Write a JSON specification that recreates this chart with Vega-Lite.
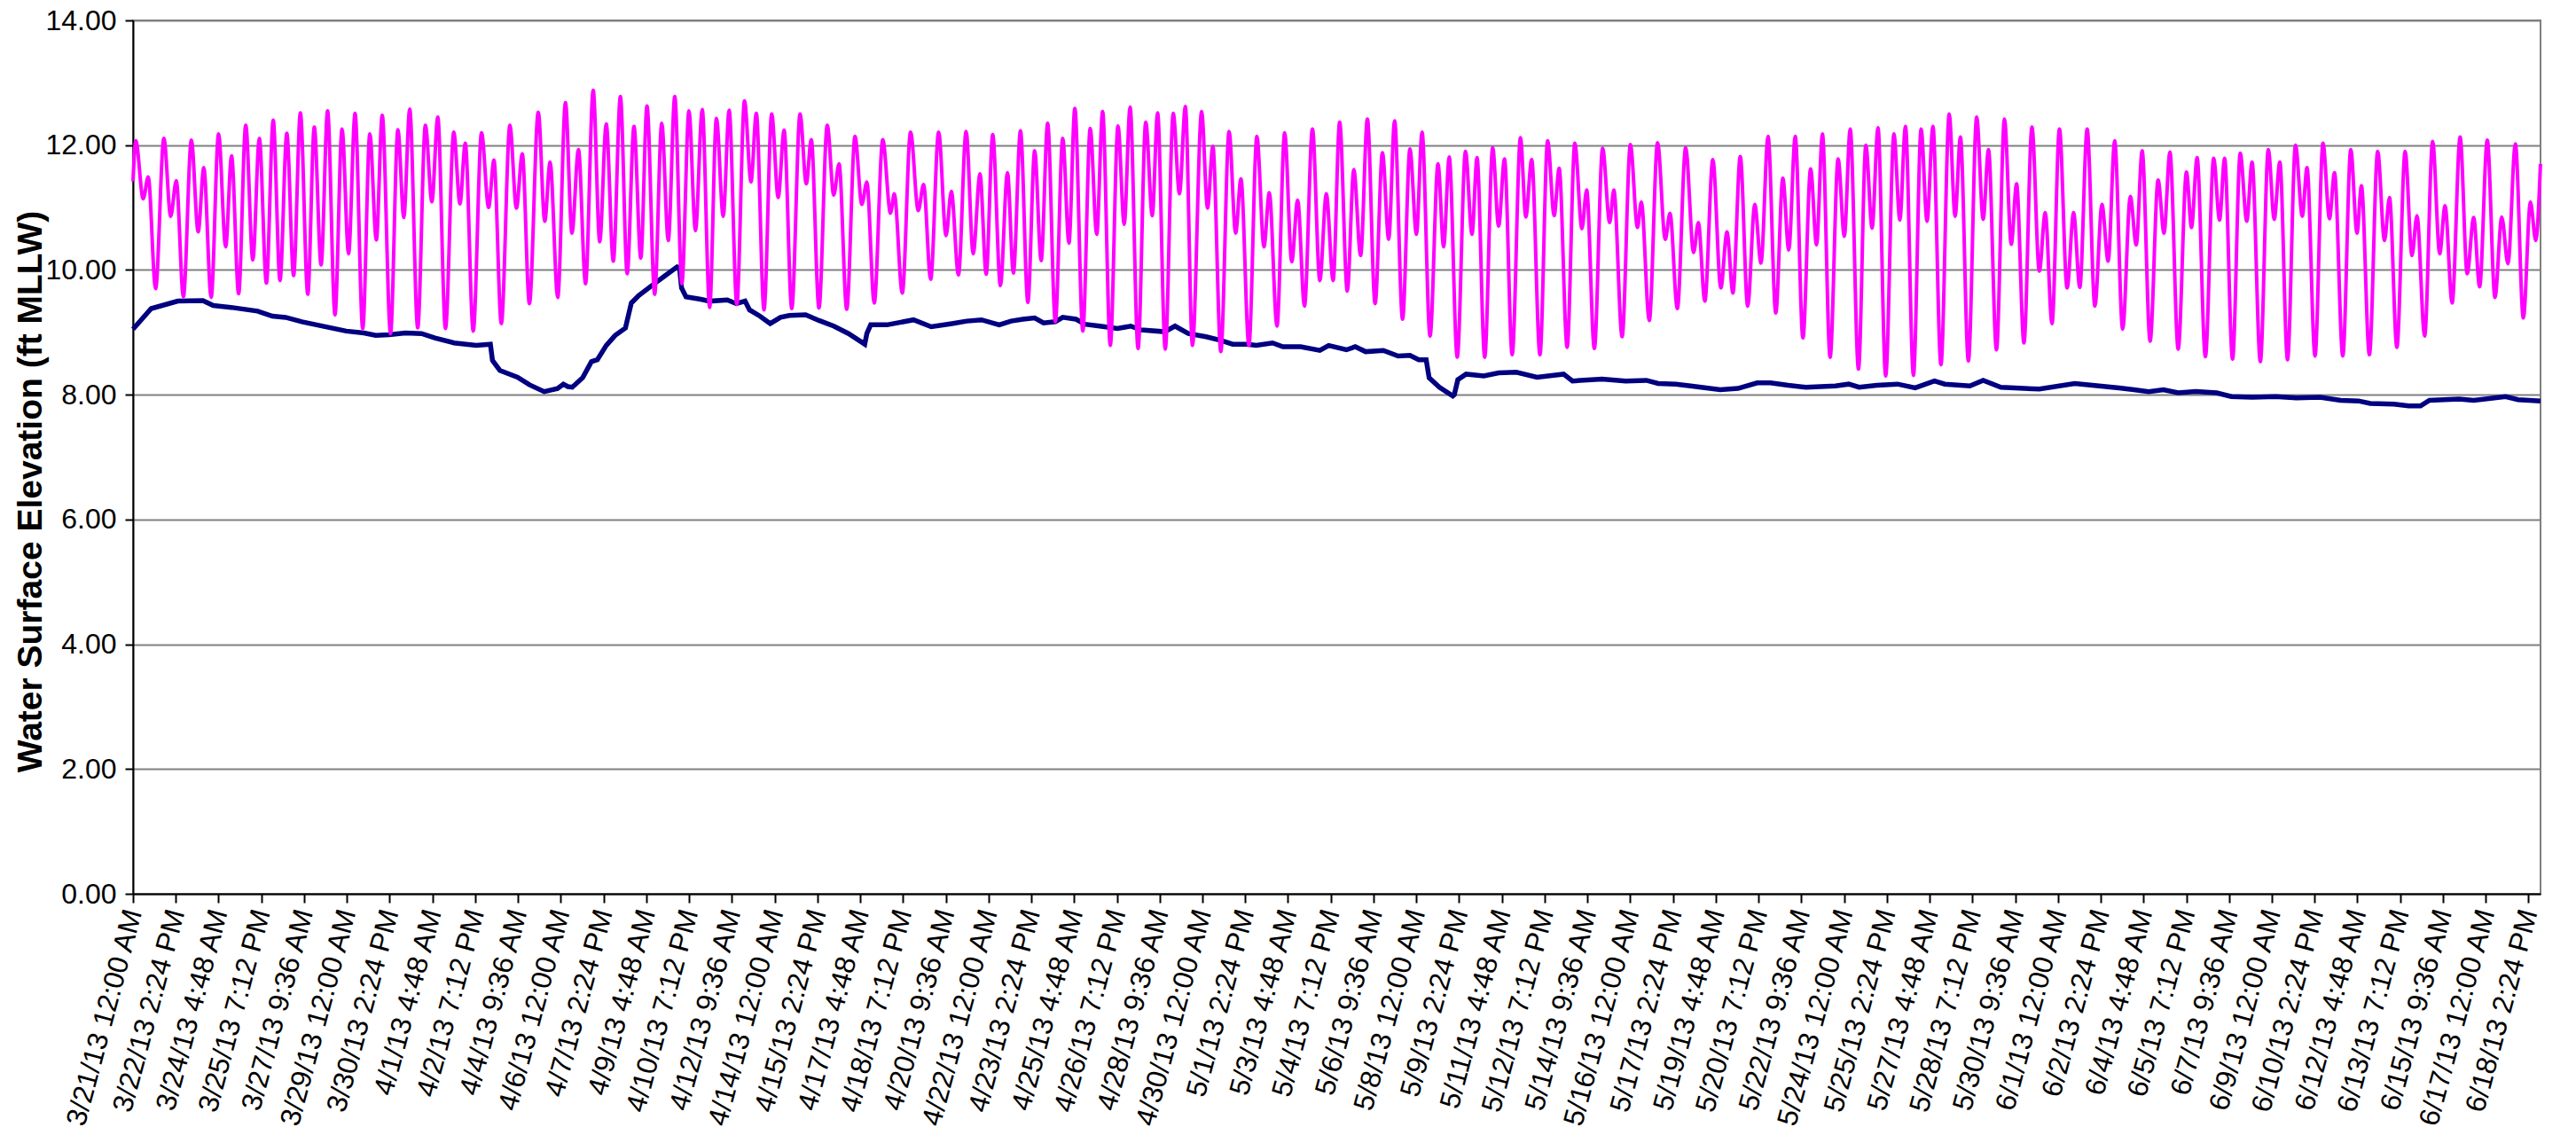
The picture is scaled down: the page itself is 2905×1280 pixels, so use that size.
{
"$schema": "https://vega.github.io/schema/vega-lite/v6.json",
"width": 2715, "height": 985,
"autosize": "none",
"padding": {"left": 150, "top": 23, "right": 40, "bottom": 272},
"background": "white",
"config": {"view": {"stroke": "#808080", "strokeWidth": 2}, "font": "Liberation Sans"},
"datasets": {
"pond": [
{"d":0,"v":9.05},{"d":0.68,"v":9.38},{"d":1.674,"v":9.50},{"d":2.614,"v":9.51},{"d":3.0,"v":9.43},{"d":3.664,"v":9.40},{"d":4.659,"v":9.34},{"d":5.211,"v":9.26},{"d":5.708,"v":9.24},{"d":6.316,"v":9.17},{"d":7.422,"v":9.07},{"d":7.974,"v":9.02},{"d":8.637,"v":8.99},{"d":9.079,"v":8.95},{"d":9.577,"v":8.96},{"d":10.184,"v":8.99},{"d":10.792,"v":8.98},{"d":11.29,"v":8.91},{"d":12.008,"v":8.83},{"d":12.837,"v":8.79},{"d":13.367,"v":8.81},{"d":13.445,"v":8.55},{"d":13.721,"v":8.39},{"d":14.384,"v":8.28},{"d":14.826,"v":8.16},{"d":15.379,"v":8.05},{"d":15.876,"v":8.10},{"d":16.097,"v":8.17},{"d":16.263,"v":8.13},{"d":16.429,"v":8.12},{"d":16.816,"v":8.27},{"d":17.147,"v":8.53},{"d":17.368,"v":8.56},{"d":17.7,"v":8.79},{"d":18.031,"v":8.95},{"d":18.418,"v":9.07},{"d":18.639,"v":9.47},{"d":18.915,"v":9.59},{"d":19.468,"v":9.77},{"d":19.91,"v":9.91},{"d":20.352,"v":10.05},{"d":20.44,"v":10.04},{"d":20.518,"v":9.71},{"d":20.684,"v":9.57},{"d":21.236,"v":9.53},{"d":21.568,"v":9.50},{"d":22.231,"v":9.52},{"d":22.563,"v":9.46},{"d":22.894,"v":9.50},{"d":23.06,"v":9.36},{"d":23.447,"v":9.26},{"d":23.834,"v":9.14},{"d":24.22,"v":9.24},{"d":24.552,"v":9.27},{"d":25.16,"v":9.28},{"d":25.657,"v":9.19},{"d":26.21,"v":9.10},{"d":26.762,"v":8.98},{"d":27.37,"v":8.81},{"d":27.448,"v":8.98},{"d":27.591,"v":9.12},{"d":28.199,"v":9.12},{"d":29.194,"v":9.20},{"d":29.857,"v":9.09},{"d":30.63,"v":9.14},{"d":31.183,"v":9.18},{"d":31.736,"v":9.20},{"d":32.399,"v":9.12},{"d":32.841,"v":9.18},{"d":33.283,"v":9.21},{"d":33.725,"v":9.23},{"d":34.057,"v":9.15},{"d":34.499,"v":9.17},{"d":34.775,"v":9.24},{"d":35.272,"v":9.21},{"d":35.604,"v":9.13},{"d":36.157,"v":9.10},{"d":36.82,"v":9.06},{"d":37.317,"v":9.10},{"d":37.704,"v":9.04},{"d":38.588,"v":9.01},{"d":38.975,"v":9.10},{"d":39.472,"v":8.98},{"d":40.135,"v":8.93},{"d":40.688,"v":8.87},{"d":41.131,"v":8.81},{"d":41.684,"v":8.81},{"d":42.015,"v":8.79},{"d":42.623,"v":8.83},{"d":43.01,"v":8.77},{"d":43.673,"v":8.77},{"d":44.391,"v":8.71},{"d":44.723,"v":8.79},{"d":45.386,"v":8.72},{"d":45.717,"v":8.77},{"d":46.104,"v":8.69},{"d":46.768,"v":8.71},{"d":47.32,"v":8.62},{"d":47.762,"v":8.63},{"d":48.094,"v":8.56},{"d":48.37,"v":8.56},{"d":48.48,"v":8.27},{"d":48.867,"v":8.12},{"d":49.365,"v":7.98},{"d":49.42,"v":8.00},{"d":49.553,"v":8.24},{"d":49.862,"v":8.33},{"d":50.525,"v":8.30},{"d":51.078,"v":8.35},{"d":51.741,"v":8.36},{"d":52.515,"v":8.28},{"d":53.509,"v":8.33},{"d":53.841,"v":8.22},{"d":54.946,"v":8.25},{"d":55.83,"v":8.22},{"d":56.604,"v":8.23},{"d":57.046,"v":8.18},{"d":57.709,"v":8.17},{"d":58.262,"v":8.14},{"d":59.367,"v":8.08},{"d":60.03,"v":8.10},{"d":60.749,"v":8.19},{"d":61.246,"v":8.19},{"d":61.909,"v":8.15},{"d":62.572,"v":8.12},{"d":63.677,"v":8.14},{"d":64.175,"v":8.17},{"d":64.561,"v":8.12},{"d":65.225,"v":8.15},{"d":65.998,"v":8.17},{"d":66.661,"v":8.11},{"d":67.38,"v":8.22},{"d":67.766,"v":8.17},{"d":68.706,"v":8.14},{"d":69.203,"v":8.23},{"d":69.866,"v":8.12},{"d":71.303,"v":8.09},{"d":72.629,"v":8.18},{"d":73.292,"v":8.15},{"d":74.287,"v":8.11},{"d":74.84,"v":8.08},{"d":75.392,"v":8.05},{"d":75.945,"v":8.08},{"d":76.497,"v":8.03},{"d":77.16,"v":8.05},{"d":77.934,"v":8.03},{"d":78.486,"v":7.97},{"d":79.26,"v":7.96},{"d":80.145,"v":7.97},{"d":80.918,"v":7.95},{"d":81.802,"v":7.96},{"d":82.577,"v":7.91},{"d":83.24,"v":7.90},{"d":83.682,"v":7.86},{"d":84.566,"v":7.85},{"d":85.119,"v":7.82},{"d":85.561,"v":7.82},{"d":85.893,"v":7.91},{"d":86.998,"v":7.93},{"d":87.55,"v":7.91},{"d":88.324,"v":7.95},{"d":88.744,"v":7.97},{"d":89.208,"v":7.92},{"d":90.048,"v":7.90}
],
"tide": [
{"d":0,"v":11.42},{"d":0.105,"v":12.07},{"d":0.381,"v":11.14},{"d":0.569,"v":11.49},{"d":0.845,"v":9.70},{"d":1.155,"v":12.11},{"d":1.409,"v":10.86},{"d":1.619,"v":11.43},{"d":1.884,"v":9.57},{"d":2.183,"v":12.08},{"d":2.437,"v":10.61},{"d":2.647,"v":11.64},{"d":2.923,"v":9.56},{"d":3.200,"v":12.18},{"d":3.465,"v":10.37},{"d":3.686,"v":11.83},{"d":3.951,"v":9.62},{"d":4.216,"v":12.32},{"d":4.482,"v":10.16},{"d":4.725,"v":12.11},{"d":4.990,"v":9.79},{"d":5.244,"v":12.40},{"d":5.498,"v":9.83},{"d":5.753,"v":12.19},{"d":6.007,"v":9.91},{"d":6.261,"v":12.52},{"d":6.537,"v":9.61},{"d":6.780,"v":12.29},{"d":7.035,"v":10.08},{"d":7.278,"v":12.55},{"d":7.554,"v":9.28},{"d":7.819,"v":12.26},
{"d":8.062,"v":10.26},{"d":8.306,"v":12.51},{"d":8.593,"v":9.06},{"d":8.858,"v":12.18},{"d":9.101,"v":10.48},{"d":9.322,"v":12.48},{"d":9.632,"v":8.98},{"d":9.908,"v":12.25},{"d":10.129,"v":10.84},{"d":10.350,"v":12.58},{"d":10.649,"v":9.07},{"d":10.936,"v":12.32},{"d":11.179,"v":11.09},{"d":11.400,"v":12.45},{"d":11.687,"v":9.06},{"d":11.997,"v":12.21},{"d":12.229,"v":11.06},{"d":12.428,"v":12.03},{"d":12.726,"v":9.02},{"d":13.036,"v":12.20},{"d":13.301,"v":11.00},{"d":13.500,"v":11.76},{"d":13.776,"v":9.14},{"d":14.097,"v":12.32},{"d":14.340,"v":10.99},{"d":14.561,"v":11.86},{"d":14.826,"v":9.46},{"d":15.158,"v":12.53},{"d":15.401,"v":10.78},{"d":15.600,"v":11.73},{"d":15.887,"v":9.56},{"d":16.175,"v":12.68},
{"d":16.418,"v":10.59},{"d":16.661,"v":11.93},{"d":16.926,"v":9.78},{"d":17.213,"v":12.88},{"d":17.457,"v":10.45},{"d":17.700,"v":12.34},{"d":17.965,"v":10.14},{"d":18.230,"v":12.78},{"d":18.484,"v":9.94},{"d":18.739,"v":12.30},{"d":18.993,"v":10.19},{"d":19.225,"v":12.63},{"d":19.512,"v":9.61},{"d":19.777,"v":12.35},{"d":20.021,"v":10.47},{"d":20.264,"v":12.78},{"d":20.529,"v":9.78},{"d":20.794,"v":12.55},{"d":21.037,"v":10.63},{"d":21.292,"v":12.57},{"d":21.568,"v":9.40},{"d":21.822,"v":12.43},{"d":22.076,"v":10.86},{"d":22.297,"v":12.56},{"d":22.585,"v":9.45},{"d":22.872,"v":12.71},{"d":23.115,"v":11.41},{"d":23.314,"v":12.51},{"d":23.602,"v":9.36},{"d":23.889,"v":12.50},{"d":24.132,"v":11.16},{"d":24.353,"v":12.24},
{"d":24.640,"v":9.38},{"d":24.950,"v":12.50},{"d":25.182,"v":11.38},{"d":25.370,"v":12.09},{"d":25.657,"v":9.39},{"d":25.967,"v":12.32},{"d":26.210,"v":11.20},{"d":26.409,"v":11.70},{"d":26.696,"v":9.37},{"d":27.005,"v":12.14},{"d":27.260,"v":11.05},{"d":27.448,"v":11.41},{"d":27.724,"v":9.47},{"d":28.044,"v":12.09},{"d":28.332,"v":10.91},{"d":28.475,"v":11.22},{"d":28.774,"v":9.63},{"d":29.083,"v":12.21},{"d":29.371,"v":10.95},{"d":29.570,"v":11.37},{"d":29.835,"v":9.85},{"d":30.133,"v":12.21},{"d":30.410,"v":10.55},{"d":30.608,"v":11.26},{"d":30.874,"v":9.92},{"d":31.161,"v":12.22},{"d":31.426,"v":10.26},{"d":31.680,"v":11.54},{"d":31.913,"v":9.93},{"d":32.156,"v":12.17},{"d":32.443,"v":9.75},{"d":32.708,"v":11.56},
{"d":32.929,"v":9.95},{"d":33.195,"v":12.23},{"d":33.471,"v":9.48},{"d":33.725,"v":11.91},{"d":33.968,"v":10.15},{"d":34.211,"v":12.35},{"d":34.499,"v":9.17},{"d":34.775,"v":12.11},{"d":35.007,"v":10.43},{"d":35.228,"v":12.59},{"d":35.527,"v":9.02},{"d":35.803,"v":12.27},{"d":36.046,"v":10.57},{"d":36.267,"v":12.54},{"d":36.554,"v":8.79},{"d":36.842,"v":12.31},{"d":37.074,"v":10.73},{"d":37.295,"v":12.61},{"d":37.593,"v":8.74},{"d":37.881,"v":12.37},{"d":38.124,"v":10.87},{"d":38.323,"v":12.52},{"d":38.610,"v":8.73},{"d":38.909,"v":12.51},{"d":39.141,"v":11.22},{"d":39.362,"v":12.62},{"d":39.627,"v":8.79},{"d":39.970,"v":12.54},{"d":40.191,"v":10.99},{"d":40.390,"v":11.98},{"d":40.688,"v":8.69},{"d":40.997,"v":12.22},
{"d":41.242,"v":10.59},{"d":41.440,"v":11.46},{"d":41.739,"v":8.79},{"d":42.037,"v":12.14},{"d":42.302,"v":10.37},{"d":42.501,"v":11.24},{"d":42.789,"v":9.10},{"d":43.076,"v":12.20},{"d":43.341,"v":10.13},{"d":43.562,"v":11.12},{"d":43.817,"v":9.42},{"d":44.115,"v":12.26},{"d":44.391,"v":9.83},{"d":44.634,"v":11.22},{"d":44.889,"v":9.83},{"d":45.132,"v":12.37},{"d":45.419,"v":9.66},{"d":45.662,"v":11.61},{"d":45.917,"v":10.23},{"d":46.171,"v":12.42},{"d":46.458,"v":9.46},{"d":46.734,"v":11.88},{"d":46.967,"v":10.49},{"d":47.188,"v":12.39},{"d":47.486,"v":9.21},{"d":47.762,"v":11.94},{"d":48.005,"v":10.57},{"d":48.215,"v":12.21},{"d":48.514,"v":8.94},{"d":48.812,"v":11.70},{"d":49.022,"v":10.37},{"d":49.232,"v":11.81},
{"d":49.531,"v":8.60},{"d":49.840,"v":11.90},{"d":50.083,"v":10.57},{"d":50.271,"v":11.80},{"d":50.558,"v":8.60},{"d":50.857,"v":11.96},{"d":51.078,"v":10.70},{"d":51.299,"v":11.78},{"d":51.586,"v":8.64},{"d":51.896,"v":12.12},{"d":52.095,"v":10.85},{"d":52.316,"v":11.77},{"d":52.625,"v":8.64},{"d":52.912,"v":12.07},{"d":53.156,"v":10.87},{"d":53.343,"v":11.63},{"d":53.642,"v":8.76},{"d":53.929,"v":12.03},{"d":54.194,"v":10.66},{"d":54.371,"v":11.28},{"d":54.659,"v":8.74},{"d":54.968,"v":11.95},{"d":55.233,"v":10.76},{"d":55.388,"v":11.28},{"d":55.698,"v":8.93},{"d":56.007,"v":12.01},{"d":56.272,"v":10.68},{"d":56.416,"v":11.09},{"d":56.714,"v":9.19},{"d":57.024,"v":12.04},{"d":57.311,"v":10.49},{"d":57.488,"v":10.91},
{"d":57.764,"v":9.38},{"d":58.074,"v":11.96},{"d":58.372,"v":10.28},{"d":58.549,"v":10.76},{"d":58.792,"v":9.50},{"d":59.091,"v":11.77},{"d":59.389,"v":9.71},{"d":59.621,"v":10.61},{"d":59.842,"v":9.63},{"d":60.118,"v":11.82},{"d":60.395,"v":9.42},{"d":60.660,"v":11.05},{"d":60.892,"v":10.11},{"d":61.157,"v":12.14},{"d":61.445,"v":9.31},{"d":61.710,"v":11.47},{"d":61.931,"v":10.32},{"d":62.174,"v":12.14},{"d":62.461,"v":8.91},{"d":62.749,"v":11.62},{"d":62.970,"v":10.40},{"d":63.191,"v":12.18},{"d":63.478,"v":8.60},{"d":63.777,"v":11.78},{"d":64.009,"v":10.54},{"d":64.230,"v":12.26},{"d":64.539,"v":8.41},{"d":64.815,"v":12.00},{"d":65.048,"v":10.67},{"d":65.269,"v":12.28},{"d":65.556,"v":8.30},{"d":65.865,"v":12.18},
{"d":66.086,"v":10.80},{"d":66.296,"v":12.30},{"d":66.595,"v":8.31},{"d":66.882,"v":12.26},{"d":67.103,"v":10.78},{"d":67.324,"v":12.30},{"d":67.623,"v":8.48},{"d":67.932,"v":12.50},{"d":68.153,"v":10.86},{"d":68.352,"v":12.13},{"d":68.650,"v":8.54},{"d":68.960,"v":12.45},{"d":69.203,"v":10.81},{"d":69.402,"v":11.93},{"d":69.700,"v":8.72},{"d":69.999,"v":12.42},{"d":70.253,"v":10.41},{"d":70.452,"v":11.38},{"d":70.728,"v":8.83},{"d":71.027,"v":12.29},{"d":71.303,"v":9.98},{"d":71.524,"v":10.92},{"d":71.778,"v":9.14},{"d":72.055,"v":12.26},{"d":72.342,"v":9.71},{"d":72.585,"v":10.92},{"d":72.817,"v":9.72},{"d":73.093,"v":12.26},{"d":73.381,"v":9.42},{"d":73.646,"v":11.05},{"d":73.878,"v":10.14},{"d":74.121,"v":12.07},
{"d":74.420,"v":9.05},{"d":74.707,"v":11.18},{"d":74.928,"v":10.40},{"d":75.149,"v":11.91},{"d":75.447,"v":8.86},{"d":75.746,"v":11.44},{"d":75.967,"v":10.59},{"d":76.188,"v":11.89},{"d":76.497,"v":8.73},{"d":76.807,"v":11.57},{"d":76.995,"v":10.68},{"d":77.205,"v":11.80},{"d":77.514,"v":8.61},{"d":77.824,"v":11.79},{"d":78.045,"v":10.80},{"d":78.233,"v":11.79},{"d":78.531,"v":8.57},{"d":78.818,"v":11.87},{"d":79.062,"v":10.78},{"d":79.260,"v":11.73},{"d":79.570,"v":8.53},{"d":79.868,"v":11.93},{"d":80.089,"v":10.81},{"d":80.299,"v":11.73},{"d":80.587,"v":8.56},{"d":80.885,"v":12.00},{"d":81.139,"v":10.86},{"d":81.316,"v":11.64},{"d":81.615,"v":8.62},{"d":81.913,"v":12.03},{"d":82.156,"v":10.82},{"d":82.344,"v":11.56},
{"d":82.654,"v":8.62},{"d":82.953,"v":11.93},{"d":83.185,"v":10.59},{"d":83.351,"v":11.35},{"d":83.649,"v":8.64},{"d":83.959,"v":11.90},{"d":84.213,"v":10.47},{"d":84.401,"v":11.16},{"d":84.677,"v":8.76},{"d":84.986,"v":11.90},{"d":85.241,"v":10.23},{"d":85.428,"v":10.87},{"d":85.716,"v":8.94},{"d":86.014,"v":12.06},{"d":86.279,"v":10.26},{"d":86.478,"v":11.03},{"d":86.744,"v":9.47},{"d":87.042,"v":12.13},{"d":87.307,"v":9.94},{"d":87.550,"v":10.84},{"d":87.771,"v":9.73},{"d":88.059,"v":12.08},{"d":88.346,"v":9.56},{"d":88.600,"v":10.85},{"d":88.832,"v":10.10},{"d":89.109,"v":12.02},{"d":89.407,"v":9.23},{"d":89.672,"v":11.09},{"d":89.871,"v":10.47},{"d":90.048,"v":11.70}
]
},
"encoding": {
"x": {"field": "d", "type": "quantitative",
 "scale": {"domain": [0, 90.05], "nice": false, "zero": false},
 "axis": {"title": null, "grid": false,
  "values": [0,1.6,3.2,4.8,6.4,8,9.6,11.2,12.8,14.4,16,17.6,19.2,20.8,22.4,24,25.6,27.2,28.8,30.4,32,33.6,35.2,36.8,38.4,40,41.6,43.2,44.8,46.4,48,49.6,51.2,52.8,54.4,56,57.6,59.2,60.8,62.4,64,65.6,67.2,68.8,70.4,72,73.6,75.2,76.8,78.4,80,81.6,83.2,84.8,86.4,88,89.6],
  "labelExpr": "utcFormat(utc(2013,2,21)+round(datum.value*1440)*60000,'%-m/%-d/%y %-I:%M %p')",
  "labelAngle": -75, "labelAlign": "right", "labelBaseline": "middle",
  "labelFont": "Liberation Sans", "labelFontSize": 32, "labelColor": "black",
  "labelPadding": 8, "labelOverlap": false, "labelFlush": false, "labelBound": false, "labelLimit": 0,
  "tickSize": 10, "tickColor": "black", "tickWidth": 2,
  "domainColor": "black", "domainWidth": 2}},
"y": {"field": "v", "type": "quantitative",
 "scale": {"domain": [0, 14], "nice": false},
 "axis": {"values": [0,2,4,6,8,10,12,14], "format": ".2f",
  "labelFont": "Liberation Sans", "labelFontSize": 32, "labelColor": "black",
  "labelPadding": 10, "labelOverlap": false,
  "tickSize": 9, "tickColor": "black", "tickWidth": 2,
  "domainColor": "black", "domainWidth": 2,
  "grid": true, "gridColor": "#808080", "gridWidth": 2,
  "title": "Water Surface Elevation (ft MLLW)",
  "titleFont": "Liberation Sans", "titleFontSize": 39, "titleFontWeight": "bold", "titleColor": "black",
  "titleX": -116, "titleY": 531, "titleBaseline": "middle", "titleAngle": -90}}
},
"layer": [
{"data": {"name": "pond"}, "mark": {"type": "line", "color": "#000080", "strokeWidth": 5.5}},
{"data": {"name": "tide"}, "mark": {"type": "line", "color": "#FF00FF", "strokeWidth": 4, "interpolate": "monotone"}}
]
}
